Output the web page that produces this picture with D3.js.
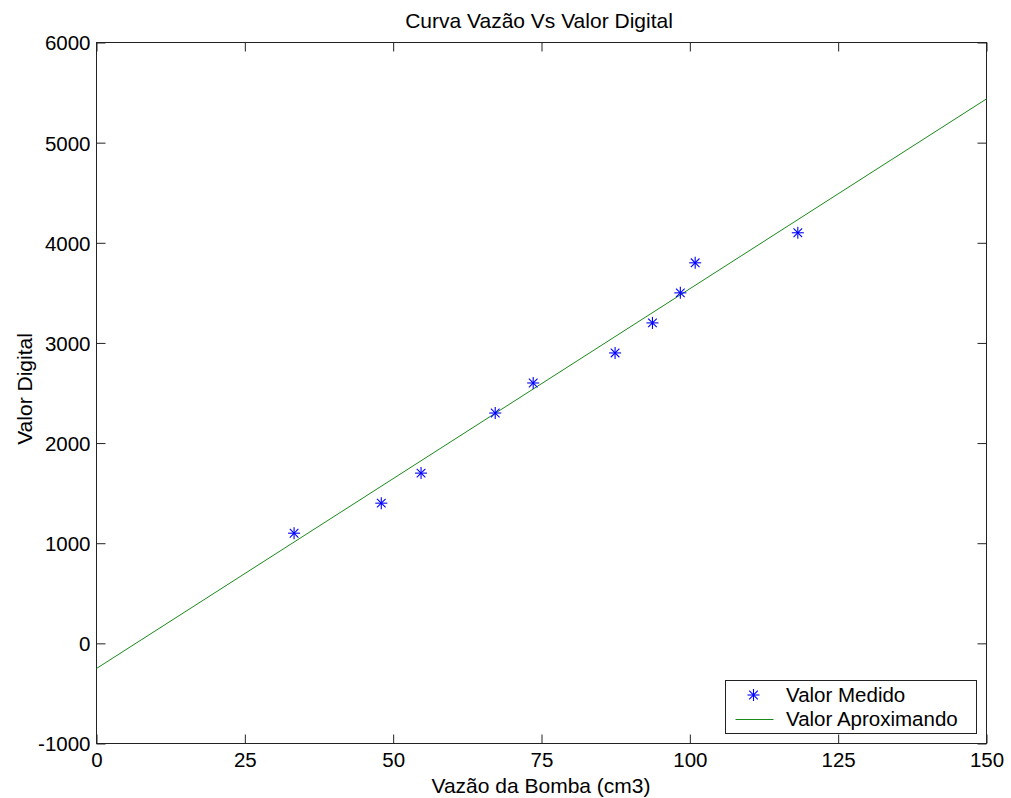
<!DOCTYPE html>
<html>
<head>
<meta charset="utf-8">
<script src="https://cdn.jsdelivr.net/npm/d3@7"></script>
<style>
  body { margin: 0; background: #fff; }
  text { font-family: "Liberation Sans", Arial, sans-serif; fill: #000; }
</style>
</head>
<body>
<div id="chart"></div>
<script>
// medido (measured points)
var vazao = [33.3, 48.0, 54.7, 67.2, 73.6, 87.4, 93.7, 98.4, 100.9, 118.2];
var valorDigital = [1100, 1400, 1700, 2300, 2600, 2900, 3200, 3500, 3800, 4100];

// linha aproximada (fitted line endpoints)
var fitX = [0, 150];
var fitY = [-251, 5437];

var xTicks = [0, 25, 50, 75, 100, 125, 150];
var yTicks = [-1000, 0, 1000, 2000, 3000, 4000, 5000, 6000];
var legendLabels = ["Valor Medido", "Valor Aproximando"];

var W = 1011, H = 798;
var margin = { top: 42.5, right: 24.5, bottom: 54.5, left: 96.5 };
var width = W - margin.left - margin.right;
var height = H - margin.top - margin.bottom;
var fs = "20.5px";

var svg = d3.select("#chart").append("svg")
  .attr("width", W)
  .attr("height", H);

var x = d3.scaleLinear().domain([0, 150]).range([0, width]);
var y = d3.scaleLinear().domain([-1000, 6000]).range([height, 0]);

var g = svg.append("g")
  .attr("transform", "translate(" + margin.left + "," + margin.top + ")");

// frame
g.append("rect")
  .attr("width", width)
  .attr("height", height)
  .attr("fill", "none")
  .attr("stroke", "#222")
  .attr("stroke-width", 1);

var tickLen = 9;
var fmt = function(d) { return String(d); };

// bottom + top ticks
var xAxis = d3.axisBottom(x).tickValues(xTicks).tickSize(-tickLen).tickPadding(9).tickFormat(fmt);
g.append("g").attr("class", "x axis")
  .attr("transform", "translate(0," + height + ")")
  .call(xAxis);
g.append("g").attr("class", "x top")
  .call(d3.axisTop(x).tickValues(xTicks).tickSize(-tickLen).tickFormat(""));

// left + right ticks
var yAxis = d3.axisLeft(y).tickValues(yTicks).tickSize(-tickLen).tickPadding(6).tickFormat(fmt);
g.append("g").attr("class", "y axis").call(yAxis);
g.append("g").attr("class", "y right")
  .attr("transform", "translate(" + width + ",0)")
  .call(d3.axisRight(y).tickValues(yTicks).tickSize(-tickLen).tickFormat(""));

g.selectAll(".domain").remove();
g.selectAll(".tick line").attr("stroke", "#222");
g.selectAll(".tick text").style("font-size", fs).attr("fill", "#000");
g.selectAll(".y.axis .tick text").attr("dy", "0.36em");

// fitted line
var lineData = fitX.map(function(d, i) { return [d, fitY[i]]; });
var line = d3.line()
  .x(function(d) { return x(d[0]); })
  .y(function(d) { return y(d[1]); });

g.append("path")
  .datum(lineData)
  .attr("d", line)
  .attr("fill", "none")
  .attr("stroke", "#1a8a1a")
  .attr("stroke-width", 1);

// asterisk markers
function asterisk(sel, r) {
  sel.append("line").attr("x1", -r).attr("x2", r).attr("y1", 0).attr("y2", 0);
  sel.append("line").attr("x1", 0).attr("x2", 0).attr("y1", -r).attr("y2", r);
  var k = r * 0.72;
  sel.append("line").attr("x1", -k).attr("x2", k).attr("y1", -k).attr("y2", k);
  sel.append("line").attr("x1", -k).attr("x2", k).attr("y1", k).attr("y2", -k);
}

var pts = g.selectAll(".pt")
  .data(vazao.map(function(d, i) { return [d, valorDigital[i]]; }))
  .enter().append("g")
  .attr("class", "pt")
  .attr("transform", function(d) { return "translate(" + x(d[0]) + "," + y(d[1]) + ")"; })
  .attr("stroke", "#0000ff")
  .attr("stroke-width", 1.1);
pts.each(function() { asterisk(d3.select(this), 6); });

// legend
var lg = g.append("g")
  .attr("transform", "translate(" + (725.5 - margin.left) + "," + (680.5 - margin.top) + ")");
lg.append("rect")
  .attr("width", 251)
  .attr("height", 53)
  .attr("fill", "#fff")
  .attr("stroke", "#222");
var m = lg.append("g").attr("transform", "translate(28,14.5)")
  .attr("stroke", "#0000ff").attr("stroke-width", 1.1);
asterisk(m, 6);
lg.append("line")
  .attr("x1", 10).attr("x2", 48)
  .attr("y1", 39).attr("y2", 39)
  .attr("stroke", "#1a8a1a");
lg.selectAll(".lt")
  .data(legendLabels)
  .enter().append("text")
  .attr("class", "lt")
  .attr("x", 60.5)
  .attr("y", function(d, i) { return 21 + i * 24.5; })
  .style("font-size", fs)
  .text(function(d) { return d; });

// title and labels
svg.append("text")
  .attr("x", 539)
  .attr("y", 28)
  .attr("text-anchor", "middle")
  .style("font-size", "21px")
  .text("Curva Vazão Vs Valor Digital");

svg.append("text")
  .attr("x", 541)
  .attr("y", 793)
  .attr("text-anchor", "middle")
  .style("font-size", "21px")
  .text("Vazão da Bomba (cm3)");

svg.append("text")
  .attr("transform", "translate(32,389) rotate(-90)")
  .attr("text-anchor", "middle")
  .style("font-size", "21px")
  .text("Valor Digital");
</script>
</body>
</html>
